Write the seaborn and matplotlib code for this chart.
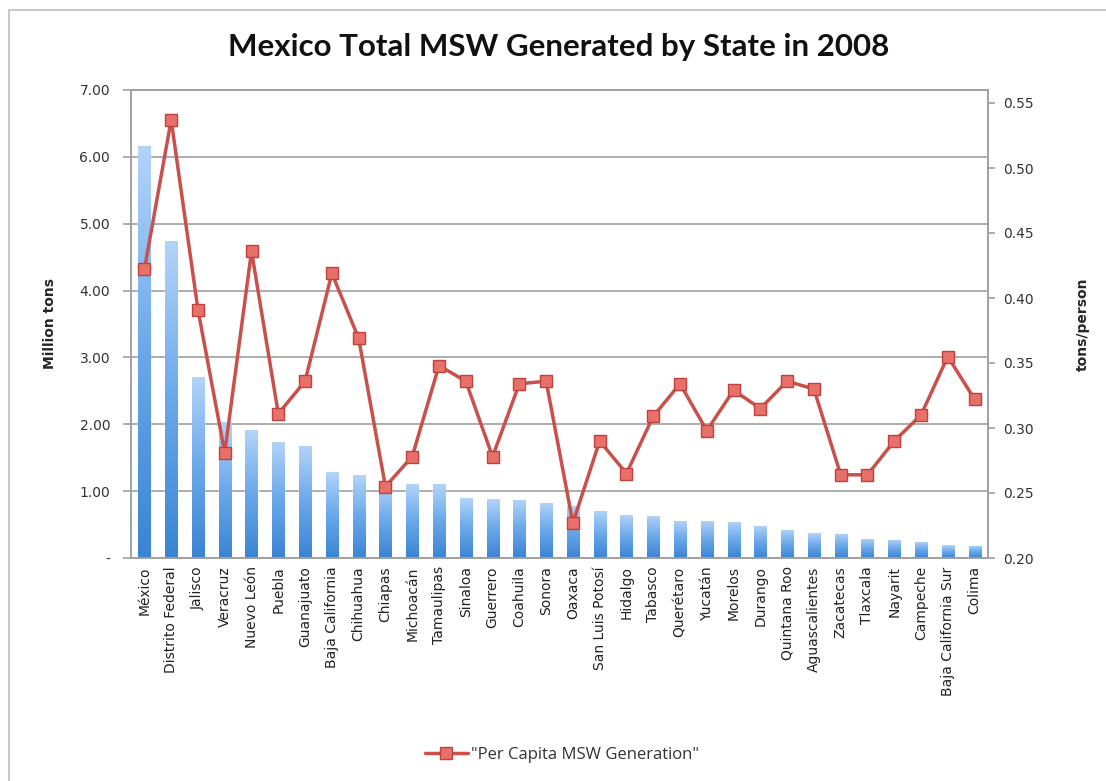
import numpy as np
import pandas as pd
import matplotlib
matplotlib.use("Agg")
import matplotlib.pyplot as plt
import seaborn as sns
from matplotlib.colors import LinearSegmentedColormap
from matplotlib.patches import Rectangle

states = ["México", "Distrito Federal", "Jalisco", "Veracruz", "Nuevo León", "Puebla",
          "Guanajuato", "Baja California", "Chihuahua", "Chiapas", "Michoacán", "Tamaulipas",
          "Sinaloa", "Guerrero", "Coahuila", "Sonora", "Oaxaca", "San Luis Potosí", "Hidalgo",
          "Tabasco", "Querétaro", "Yucatán", "Morelos", "Durango", "Quintana Roo",
          "Aguascalientes", "Zacatecas", "Tlaxcala", "Nayarit", "Campeche",
          "Baja California Sur", "Colima"]
total_msw = [6.16, 4.74, 2.71, 2.03, 1.91, 1.74, 1.68, 1.28, 1.24, 1.12, 1.10, 1.10,
             0.89, 0.88, 0.87, 0.83, 0.78, 0.71, 0.64, 0.63, 0.56, 0.56, 0.54, 0.48,
             0.42, 0.37, 0.36, 0.29, 0.27, 0.24, 0.19, 0.18]
per_capita = [0.422, 0.537, 0.391, 0.281, 0.436, 0.311, 0.336, 0.419, 0.369, 0.255,
              0.278, 0.348, 0.336, 0.278, 0.334, 0.336, 0.227, 0.290, 0.265, 0.309,
              0.334, 0.298, 0.329, 0.315, 0.336, 0.330, 0.264, 0.264, 0.290, 0.310,
              0.355, 0.322]
left_ticks = [0, 1, 2, 3, 4, 5, 6, 7]
left_labels = ["-", "1.00", "2.00", "3.00", "4.00", "5.00", "6.00", "7.00"]
right_ticks = [0.20, 0.25, 0.30, 0.35, 0.40, 0.45, 0.50, 0.55]
right_labels = ["0.20", "0.25", "0.30", "0.35", "0.40", "0.45", "0.50", "0.55"]

df = pd.DataFrame({"state": states, "total": total_msw, "per_capita": per_capita})
n = len(states)

sns.set_style("white")
plt.rcParams["font.family"] = ["DejaVu Sans"]

fig = plt.figure(figsize=(11.06, 7.81), dpi=100)
ax = fig.add_axes([131/1106, 1-558/781, (988-131)/1106, (558-90)/781])

# figure frame
fig.patches.append(Rectangle((9/1106, -0.02), 1.05, 1-10/781+0.02, transform=fig.transFigure,
                             fill=False, edgecolor="#c8c8c8", linewidth=1.5, zorder=0))

sns.barplot(data=df, x="state", y="total", ax=ax, color="#5b9be0", width=0.45,
            saturation=1, zorder=2)
ax.set_xlim(-0.5, n - 0.5)
ax.set_ylim(0, 7)

# gradient fill on bars
cmap = LinearSegmentedColormap.from_list("g", ["#3a84d3", "#6aa8ea", "#b3d4fa"])
grad = np.linspace(0, 1, 256).reshape(-1, 1)
for p in list(ax.patches):
    x0, y0 = p.get_x(), p.get_y()
    w, h = p.get_width(), p.get_height()
    im = ax.imshow(grad, extent=[x0, x0 + w, y0, y0 + h], origin="lower", cmap=cmap,
                   aspect="auto", zorder=2.1, interpolation="bicubic")
    im.set_clip_path(p)
ax.set_xlim(-0.5, n - 0.5)
ax.set_ylim(0, 7)

ax.set_yticks(left_ticks)
ax.set_yticklabels(left_labels)
ax.yaxis.grid(True, color="#a0a0a0", linewidth=1.2, zorder=0)
ax.set_axisbelow(True)
ax.set_xticks(range(n))
ax.set_xticklabels(states, rotation=90, fontsize=10, color="#222222")
ax.set_xticks(np.arange(-0.5, n, 1.0), minor=True)
ax.tick_params(axis="x", which="major", length=0, pad=6)
ax.tick_params(axis="x", which="minor", length=5, color="#a0a0a0", width=1.2, direction="out")
ax.tick_params(axis="y", length=6, color="#a0a0a0", width=1.2, direction="out",
               labelsize=10, labelcolor="#333333", pad=9)
ax.set_xlabel("")
ax.set_ylabel("Million tons", fontsize=10, fontweight="bold", labelpad=16)
for s in ax.spines.values():
    s.set_color("#a0a0a0")
    s.set_linewidth(1.2)

ax2 = ax.twinx()
sns.pointplot(data=df, x="state", y="per_capita", ax=ax2, color="#c9504b",
              markers="s", linestyles="-", markersize=8.5, linewidth=2.5,
              markerfacecolor="#e8706a", markeredgecolor="#c0413c", markeredgewidth=1,
              label='"Per Capita MSW Generation"')
ax2.set_xlim(-0.5, n - 0.5)
ax2.set_ylim(0.2, 0.56)
ax2.set_yticks(right_ticks)
ax2.set_yticklabels(right_labels)
ax2.tick_params(axis="y", length=5, color="#a0a0a0", width=1.2, direction="out",
                labelsize=10, labelcolor="#333333", pad=6)
ax2.set_ylabel("tons/person", fontsize=10, fontweight="bold", labelpad=30)
ax2.set_xlabel("")
for s in ax2.spines.values():
    s.set_color("#a0a0a0")
    s.set_linewidth(1.2)
ax2.grid(False)

leg = ax2.legend(loc="center", bbox_to_anchor=(562/1106, 1-755/781),
                 bbox_transform=fig.transFigure, frameon=False,
                 handlelength=2.6, handletextpad=0.2,
                 prop={"family": "Open Sans", "size": 12})
for t in leg.get_texts():
    t.set_color("#333333")

fig.text(559/1106, 1-47/781, "Mexico Total MSW Generated by State in 2008",
         ha="center", va="center", fontsize=22.5, fontweight="bold", family="Lato",
         color="#111111")

fig.savefig("out.png", dpi=100)
